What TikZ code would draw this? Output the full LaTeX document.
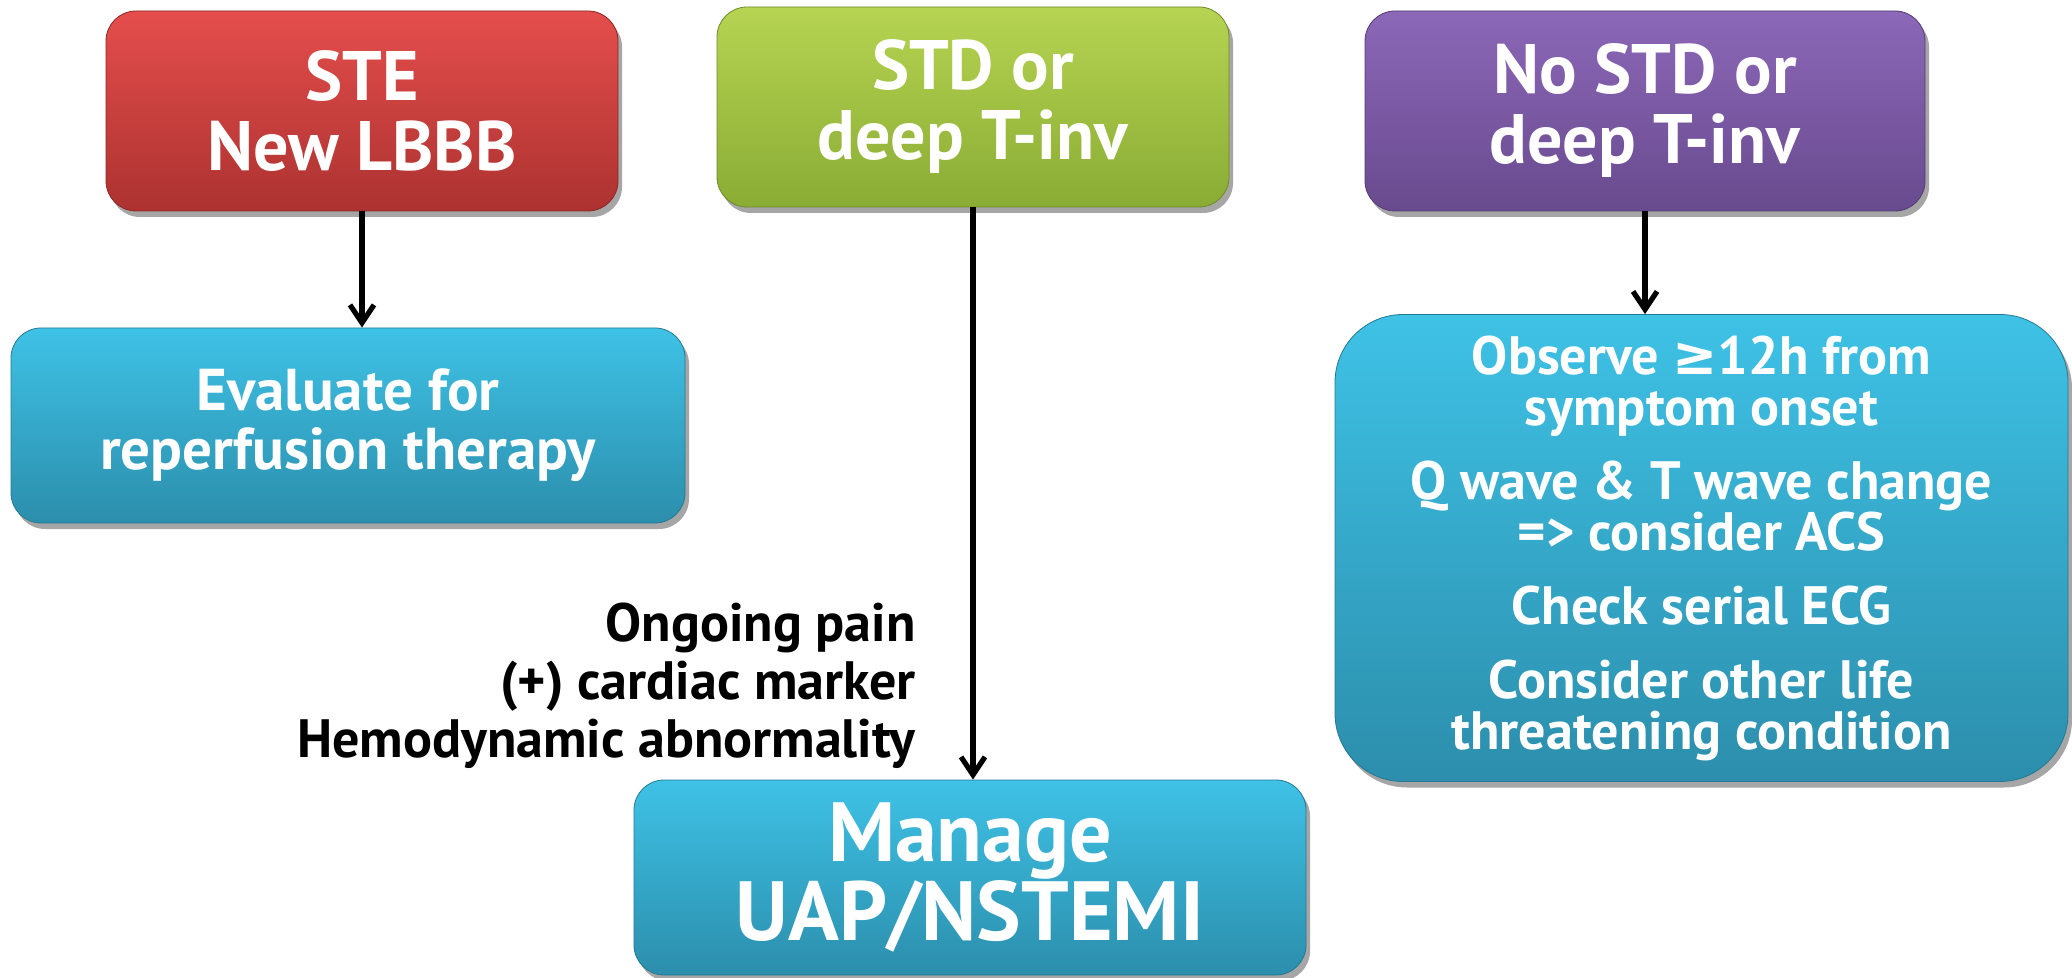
\documentclass[tikz,border=0pt]{standalone}
\usepackage{fontspec}
\setmainfont{PT Sans}
\newfontfamily\symfont{DejaVu Sans}
\usetikzlibrary{arrows.meta,shadows}
\definecolor{redT}{RGB}{228,78,76}
\definecolor{redB}{RGB}{172,50,48}
\definecolor{grnT}{RGB}{182,212,82}
\definecolor{grnB}{RGB}{138,172,52}
\definecolor{purT}{RGB}{140,104,184}
\definecolor{purB}{RGB}{104,74,142}
\definecolor{bluT}{RGB}{62,194,230}
\definecolor{bluB}{RGB}{44,142,172}
\tikzset{
  box/.style={rounded corners=15pt, align=center, text=white, inner sep=0pt,
    drop shadow={shadow xshift=2pt, shadow yshift=-3pt, opacity=0.35, fill=black}},
  redbox/.style={box, top color=redT, bottom color=redB, draw=redB!80!black, line width=0.4pt},
  grnbox/.style={box, top color=grnT, bottom color=grnB, draw=grnB!80!black, line width=0.4pt},
  purbox/.style={box, top color=purT, bottom color=purB, draw=purB!80!black, line width=0.4pt},
  blubox/.style={box, top color=bluT, bottom color=bluB, draw=bluB!85!black, line width=0.4pt},
  headfont/.style={font=\bfseries\fontsize{35}{35}\selectfont},
  arr/.style={line width=2.8pt, -{Straight Barb[length=9pt,width=12pt,line width=2.6pt]}},
}
\begin{document}
\begin{tikzpicture}[x=0.5pt,y=-0.5pt]
\useasboundingbox (0,0) rectangle (2072,978);
\node[redbox, headfont, minimum width=256pt, minimum height=100pt] (ste) at (362,111) {STE\\New LBBB};
\node[grnbox, headfont, minimum width=256pt, minimum height=100pt] (std) at (973,107) {STD or\\deep T-inv};
\node[purbox, headfont, minimum width=280pt, minimum height=100pt] (nostd) at (1645,111) {No STD or\\deep T-inv};
\node[blubox, font=\bfseries\fontsize{29.5}{29.5}\selectfont, minimum width=337pt, minimum height=97.5pt] (eval) at (348,425.5) {Evaluate for\\reperfusion therapy};
\node[blubox, rounded corners=34pt, font=\bfseries\fontsize{27}{25.5}\selectfont, minimum width=366.5pt, minimum height=233.5pt] (obs) at (1701.5,548)
  {Observe {\symfont\bfseries ≥}12h from\\symptom onset\\[11.5pt]
   Q wave \& T wave change\\={}> consider ACS\\[11.5pt]
   Check serial ECG\\[11.5pt]
   Consider other life\\threatening condition};
\node[blubox, font=\bfseries\fontsize{42}{39.5}\selectfont, minimum width=336pt, minimum height=97.5pt] (uap) at (970,877.5) {Manage\\UAP/NSTEMI};
\node[anchor=north east, align=right, inner sep=0pt, font=\bfseries\fontsize{27}{29}\selectfont] (cond) at (916,603)
  {Ongoing pain\\(+) cardiac marker\\Hemodynamic abnormality};
\draw[arr] (ste.south) -- (ste.south |- eval.north);
\draw[arr] (std.south) -- (std.south |- uap.north);
\draw[arr] (nostd.south) -- (nostd.south |- obs.north);
\end{tikzpicture}
\end{document}
